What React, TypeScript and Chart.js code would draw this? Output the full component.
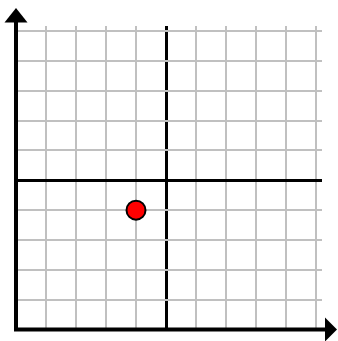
import React, { useEffect, useRef } from "react";
import { Chart, registerables } from "chart.js";

Chart.register(...registerables);

const xPoints: number[] = [-1];
const yPoints: number[] = [-1];
const xRange: number[] = [-5, 5.2];
const yRange: number[] = [-5, 5.17];

const arrowAxes = {
  id: "arrowAxes",
  afterDraw(chart: any) {
    const { ctx, scales } = chart;
    const x0 = scales.x.getPixelForValue(xRange[0]);
    const y0 = scales.y.getPixelForValue(yRange[0]);
    const top = chart.chartArea.top;
    const right = chart.chartArea.right;
    ctx.save();
    ctx.strokeStyle = "#000";
    ctx.fillStyle = "#000";
    ctx.lineWidth = 4;
    ctx.beginPath();
    ctx.moveTo(x0, y0 + 2);
    ctx.lineTo(x0, top - 6);
    ctx.moveTo(x0 - 2, y0);
    ctx.lineTo(right + 6, y0);
    ctx.stroke();
    // up arrow
    ctx.beginPath();
    ctx.moveTo(x0, top - 18);
    ctx.lineTo(x0 - 11.5, top - 3.5);
    ctx.lineTo(x0 + 11.5, top - 3.5);
    ctx.closePath();
    ctx.fill();
    // right arrow
    ctx.beginPath();
    ctx.moveTo(right + 15, y0);
    ctx.lineTo(right + 3, y0 - 12);
    ctx.lineTo(right + 3, y0 + 12);
    ctx.closePath();
    ctx.fill();
    ctx.restore();
  },
};

export default function App() {
  const ref = useRef<HTMLCanvasElement>(null);
  useEffect(() => {
    if (!ref.current) return;
    const gridColor = (c: any) => (c.tick && c.tick.value === 0 ? "#000000" : "#c0c0c0");
    const gridWidth = (c: any) => (c.tick && c.tick.value === 0 ? 3 : 2);
    const chart = new Chart(ref.current, {
      type: "scatter",
      data: {
        datasets: [
          {
            data: xPoints.map((x, i) => ({ x, y: yPoints[i] })),
            backgroundColor: "#ff0000",
            borderColor: "#000000",
            borderWidth: 2,
            pointRadius: 9.5,
            pointHoverRadius: 9.5,
          },
        ],
      },
      options: {
        responsive: false,
        animation: false,
        layout: { padding: { left: 16, right: 16, top: 26, bottom: 10 } },
        plugins: { legend: { display: false }, tooltip: { enabled: false } },
        scales: {
          x: {
            type: "linear",
            min: xRange[0],
            max: xRange[1],
            ticks: { display: false, stepSize: 1, includeBounds: false },
            grid: { color: gridColor, lineWidth: gridWidth, drawTicks: false },
            border: { display: false },
          },
          y: {
            type: "linear",
            min: yRange[0],
            max: yRange[1],
            ticks: { display: false, stepSize: 1, includeBounds: false },
            grid: { color: gridColor, lineWidth: gridWidth, drawTicks: false },
            border: { display: false },
          },
        },
      },
      plugins: [arrowAxes],
    });
    return () => chart.destroy();
  }, []);
  return (
    <div style={{ position: "fixed", left: 0, top: 0, width: 338, height: 341, background: "#fff" }}>
      <canvas ref={ref} width={338} height={341} />
    </div>
  );
}
